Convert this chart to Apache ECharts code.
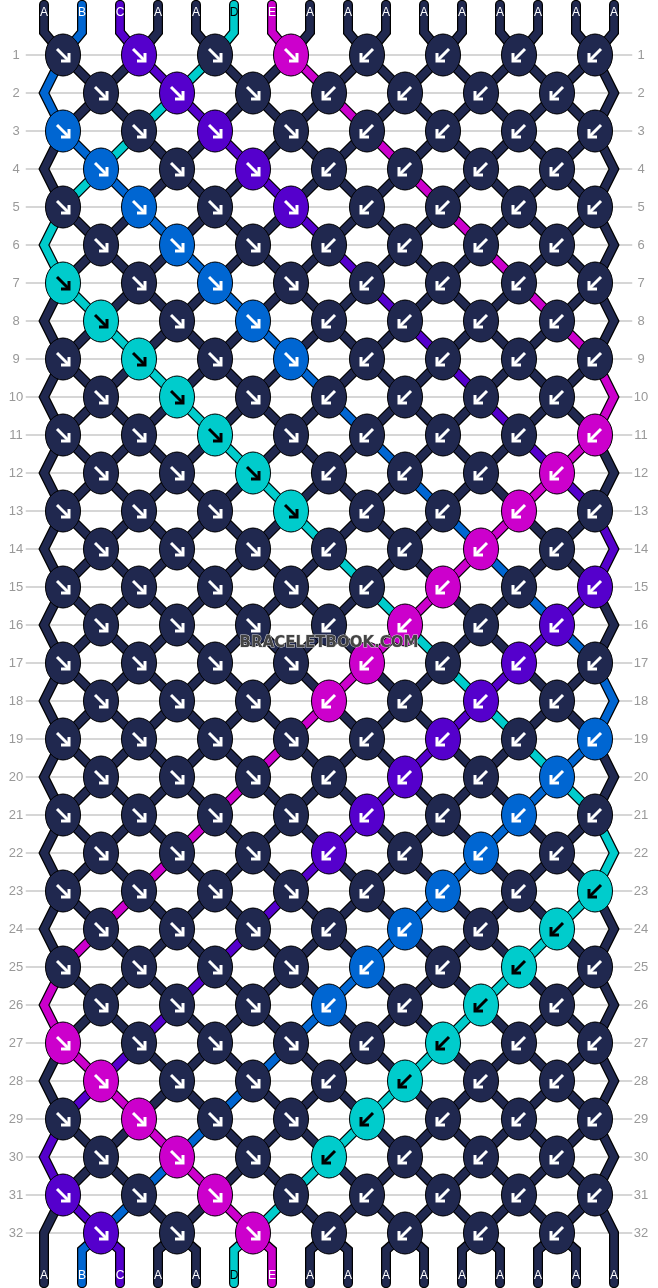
<!DOCTYPE html>
<html><head><meta charset="utf-8">
<script src="https://cdn.jsdelivr.net/npm/echarts@6/dist/echarts.min.js"></script>
<style>html,body{margin:0;padding:0;background:#fff}#c{width:658px;height:1288px}</style>
</head><body><div id="c"></div>
<script>
// ---- data ----
const startStrings = ['A','B','C','A','A','D','E','A','A','A','A','A','A','A','A','A'];
const stringColors = {A:'#20284f', B:'#0066d2', C:'#5500cc', D:'#00cccc', E:'#cc00cc'};
const labelTextColors = {A:'#ffffff', B:'#ffffff', C:'#ffffff', D:'#000000', E:'#ffffff'};
const rowLabels = Array.from({length:32},(_,i)=>String(i+1));
// knot directions per row: F = forward (↘), B = backward (↙)
const knotDirs = [];
for (let r = 0; r < 32; r++) knotDirs.push(r % 2 === 0 ? 'FFFFBBBB' : 'FFFBBBB');

// ---- simulation ----
const N = startStrings.length;
let order = startStrings.map((c,i)=>i);
const paths = startStrings.map((c,i)=>[[i,-0.32],[i,0.4]]);
const knots = [];
for (let r = 0; r < 32; r++) {
  const row = r + 1;
  const odd = r % 2 === 0;
  const dirs = knotDirs[r];
  const next = order.slice();
  if (!odd) { paths[order[0]].push([0,row]); paths[order[N-1]].push([N-1,row]); }
  let k = 0;
  for (let p = odd ? 0 : 1; p + 1 < N; p += 2, k++) {
    const L = order[p], R = order[p+1];
    const d = dirs[k];
    paths[L].push([p+0.5,row]); paths[R].push([p+0.5,row]);
    const shown = d === 'F' ? startStrings[L] : startStrings[R];
    knots.push([p+0.5, row, shown, d]);
    next[p] = R; next[p+1] = L;
  }
  order = next;
}
order.forEach((id,pos)=>{ paths[id].push([pos,32.45]); paths[id].push([pos,33.32]); });
const bottomStrings = order.map(id=>startStrings[id]);

const chart = echarts.init(document.getElementById('c'), null, {renderer:'canvas'});
const lineData = paths.map((p,i)=>({value:[i], pts:p, col:stringColors[startStrings[i]]}));

function polyRender(width, useColor){
  return function(params, api){
    const item = lineData[params.dataIndex];
    const pts = item.pts.map(p=>api.coord(p));
    return {type:'polyline', shape:{points:pts}, style:{stroke: useColor? item.col : '#000', lineWidth: width, fill:null, lineJoin:'miter', lineCap:'round'}, z2: useColor?2:1};
  };
}

chart.setOption({
  animation:false,
  grid:{left:0,right:0,top:0,bottom:0},
  xAxis:{type:'value', min:-44/38, max:614/38, show:false},
  yAxis:{type:'value', min:1-55/38, max:1+(1288-55)/38, inverse:true, show:false},
  series:[
    {
      type:'custom', data:rowLabels.map((l,i)=>[i+1]), silent:true, z:0,
      renderItem:(params, api)=>{
        const r = api.value(0);
        const a = api.coord([-0.48, r]), b = api.coord([N-1+0.48, r]);
        return {type:'group', children:[
          {type:'line', shape:{x1:a[0],y1:a[1],x2:b[0],y2:b[1]}, style:{stroke:'#c8c8c8', lineWidth:1.5}},
          {type:'text', style:{text:rowLabels[params.dataIndex], x:16, y:a[1], align:'center', verticalAlign:'middle', fill:'#999', font:'13px "Liberation Sans", Arial'}},
          {type:'text', style:{text:rowLabels[params.dataIndex], x:641, y:a[1], align:'center', verticalAlign:'middle', fill:'#999', font:'13px "Liberation Sans", Arial'}}
        ]};
      }
    },
    {type:'custom', data:lineData.map(d=>d.value), renderItem:polyRender(10,false), silent:true, z:1},
    {type:'custom', data:lineData.map(d=>d.value), renderItem:polyRender(7.5,true), silent:true, z:2},
    {
      type:'custom', data:knots, silent:true, z:3,
      encode:{x:0,y:1},
      renderItem:(params, api)=>{
        const kn = knots[params.dataIndex];
        const c = api.coord([kn[0], kn[1]]);
        const fill = stringColors[kn[2]];
        const ac = kn[2]==='D' ? '#000' : '#fff';
        const s = kn[3]==='F' ? 1 : -1;
        const x = c[0], y = c[1];
        return {type:'group', children:[
          {type:'ellipse', shape:{cx:x, cy:y, rx:17.5, ry:21}, style:{fill:fill, stroke:'#000', lineWidth:1}},
          {type:'line', shape:{x1:x-6*s, y1:y-6, x2:x+5*s, y2:y+5}, style:{stroke:ac, lineWidth:3}},
          {type:'polyline', shape:{points:[[x+6*s,y-2],[x+6*s,y+6],[x-2*s,y+6]]}, style:{stroke:ac, lineWidth:3, fill:null}}
        ]};
      }
    },
    {
      type:'custom', data:startStrings.map((c,i)=>[i]), silent:true, z:4,
      renderItem:(params, api)=>{
        const i = params.dataIndex;
        const t = startStrings[i], b = bottomStrings[i];
        const ct = api.coord([i, 1-(55-13)/38]), cb = api.coord([i, 1+(1276-55)/38]);
        return {type:'group', children:[
          {type:'text', style:{text:t, x:ct[0], y:ct[1], align:'center', verticalAlign:'middle', fill:labelTextColors[t], font:'12px "Liberation Sans", Arial'}},
          {type:'text', style:{text:b, x:cb[0], y:cb[1], align:'center', verticalAlign:'middle', fill:labelTextColors[b], font:'12px "Liberation Sans", Arial'}}
        ]};
      }
    }
  ],
  graphic:[{type:'text', z:100, style:{text:'BRACELETBOOK.COM', x:329, y:643, align:'center', verticalAlign:'middle', fill:'#444', stroke:'#ddd', lineWidth:1, font:'bold 15px "DejaVu Sans", Arial'}}]
});
</script></body></html>
